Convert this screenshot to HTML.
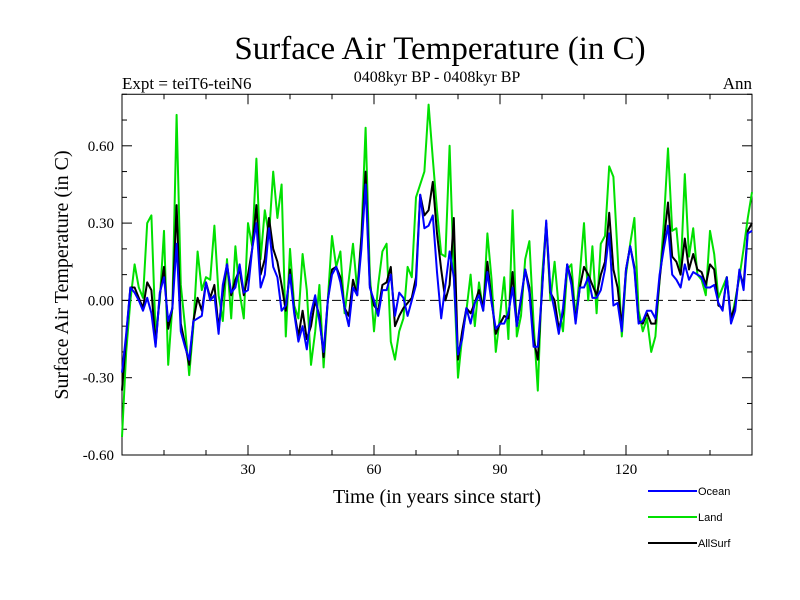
<!DOCTYPE html>
<html><head><meta charset="utf-8"><style>
body{margin:0;background:#fff}
svg{display:block}
.serif{font-family:"Liberation Serif",serif}
.sans{font-family:"Liberation Sans",sans-serif}
</style></head><body>
<svg id="chart" width="800" height="600" xmlns="http://www.w3.org/2000/svg">
<text class="serif" x="440" y="59" font-size="33" text-anchor="middle">Surface Air Temperature (in C)</text>
<text class="serif" x="437" y="82" font-size="16" text-anchor="middle">0408kyr BP - 0408kyr BP</text>
<text class="serif" x="122" y="89" font-size="17">Expt = teiT6-teiN6</text>
<text class="serif" x="752" y="89" font-size="17" text-anchor="end">Ann</text>
<text class="serif" transform="translate(68,275) rotate(-90)" font-size="20" text-anchor="middle">Surface Air Temperature (in C)</text>
<text class="serif" x="437" y="503" font-size="20" text-anchor="middle">Time (in years since start)</text>
<g id="axes" class="serif"></g>
<g id="series"></g>
<g id="legend" class="sans"></g>
</svg>
<script>
const years=[];for(let i=0;i<=150;i++)years.push(i);
const ocean=[-0.28,-0.13,0.05,0.03,0.0,-0.04,0.01,-0.05,-0.18,0.03,0.09,-0.08,-0.03,0.22,-0.12,-0.18,-0.23,-0.08,-0.07,-0.06,0.07,0.0,0.02,-0.13,0.06,0.14,0.03,0.05,0.14,0.03,0.04,0.2,0.3,0.05,0.1,0.28,0.13,0.09,-0.04,-0.02,0.1,-0.05,-0.16,-0.10,-0.19,-0.05,0.02,-0.08,-0.2,0.0,0.1,0.13,0.07,-0.03,-0.1,0.05,0.02,0.2,0.45,0.05,0.0,-0.06,0.04,0.04,0.10,-0.06,0.03,0.01,-0.06,0.0,0.06,0.41,0.28,0.29,0.33,0.11,-0.07,0.06,0.19,0.09,-0.21,-0.15,-0.03,-0.09,-0.01,0.02,-0.04,0.11,-0.01,-0.11,-0.09,-0.09,-0.05,0.05,-0.1,0.01,0.12,0.03,-0.18,-0.18,0.03,0.31,0.04,-0.04,-0.13,-0.03,0.14,0.06,-0.09,0.05,0.05,0.09,0.01,0.01,0.04,0.12,0.26,-0.02,-0.01,-0.12,0.12,0.21,0.12,-0.09,-0.08,-0.04,-0.04,-0.07,0.10,0.20,0.29,0.10,0.08,0.05,0.14,0.08,0.11,0.10,0.09,0.05,0.05,0.06,-0.01,-0.04,0.09,-0.09,-0.04,0.12,0.04,0.26,0.27];
const land=[-0.53,-0.2,0.0,0.14,0.05,0.01,0.30,0.33,-0.13,0.0,0.27,-0.25,-0.02,0.72,0.06,-0.1,-0.29,-0.1,0.19,0.04,0.09,0.08,0.29,0.02,-0.08,0.16,-0.07,0.21,0.03,-0.07,0.30,0.21,0.55,0.16,0.35,0.25,0.5,0.32,0.45,-0.14,0.2,-0.02,-0.07,0.18,0.04,-0.25,-0.12,0.06,-0.26,0.0,0.25,0.13,0.19,-0.05,0.08,0.22,0.04,0.25,0.67,0.1,-0.12,0.06,0.19,0.22,-0.16,-0.23,-0.12,-0.07,0.13,0.09,0.4,0.45,0.5,0.76,0.55,0.35,0.18,0.17,0.6,0.1,-0.3,-0.14,-0.04,0.1,-0.1,0.07,-0.04,0.26,0.08,-0.2,-0.06,0.09,-0.15,0.35,-0.14,-0.06,0.16,0.23,-0.09,-0.35,0.09,0.3,0.0,0.15,-0.03,-0.12,0.12,0.14,-0.07,0.1,0.3,0.0,0.21,-0.05,0.22,0.25,0.52,0.48,0.18,-0.14,0.1,0.22,0.32,-0.04,-0.12,-0.07,-0.2,-0.14,0.08,0.3,0.59,0.27,0.28,0.1,0.49,0.17,0.28,0.1,0.08,0.02,0.27,0.18,0.01,0.05,0.09,-0.08,0.0,0.09,0.2,0.32,0.42];
const allsurf=[-0.35,-0.14,0.05,0.05,0.01,-0.03,0.07,0.04,-0.17,0.02,0.13,-0.11,-0.03,0.37,-0.09,-0.17,-0.25,-0.08,0.01,-0.04,0.07,0.01,0.06,-0.11,0.03,0.14,0.02,0.08,0.12,0.02,0.1,0.2,0.37,0.1,0.16,0.32,0.2,0.15,0.06,-0.04,0.12,-0.04,-0.14,-0.04,-0.15,-0.1,0.0,-0.06,-0.22,0.0,0.12,0.13,0.09,-0.03,-0.06,0.08,0.02,0.24,0.5,0.06,-0.02,-0.04,0.06,0.07,0.13,-0.1,-0.06,-0.03,-0.01,0.01,0.09,0.41,0.33,0.35,0.46,0.26,0.12,0.0,0.06,0.32,-0.23,-0.12,-0.03,-0.05,-0.01,0.04,-0.03,0.15,0.0,-0.13,-0.09,-0.06,-0.07,0.11,-0.1,0.0,0.12,0.05,-0.15,-0.23,0.04,0.3,0.03,0.0,-0.11,-0.05,0.14,0.08,-0.08,0.05,0.13,0.1,0.06,0.02,0.1,0.15,0.34,0.12,0.05,-0.1,0.12,0.21,0.13,-0.08,-0.09,-0.05,-0.09,-0.09,0.08,0.23,0.38,0.17,0.15,0.1,0.24,0.12,0.18,0.12,0.11,0.06,0.14,0.12,-0.02,-0.03,0.09,-0.07,-0.02,0.11,0.06,0.27,0.3];
const yTicks=[-0.6,-0.3,0.0,0.3,0.6];
const yTickLabels=["-0.60","-0.30","0.00","0.30","0.60"];
const xTicks=[30,60,90,120];
const xTickLabels=["30","60","90","120"];

const NS="http://www.w3.org/2000/svg";
const L=122,R=752,X0=0,X1=150,Y0=-0.6,Y1=0.8;
const B=455,T=B-(Y1-Y0)/0.3*77.3;
function xs(v){return L+(v-X0)/(X1-X0)*(R-L);}
function ys(v){return B-(v-Y0)/(Y1-Y0)*(B-T);}
function mk(tag,attrs,parent){const e=document.createElementNS(NS,tag);for(const k in attrs)e.setAttribute(k,attrs[k]);parent.appendChild(e);return e;}
const axes=document.getElementById('axes');
const frame=mk('rect',{x:L,y:T,width:R-L,height:B-T,fill:'none',stroke:'#000','stroke-width':1},axes);


for(let v=-0.6;v<=0.8001;v+=0.1){const y=ys(v);
 const major=yTicks.some(t=>Math.abs(t-v)<1e-6);const len=major?10:5;
 mk('line',{x1:L,x2:L+len,y1:y,y2:y,stroke:'#000'},axes);
 mk('line',{x1:R,x2:R-len,y1:y,y2:y,stroke:'#000'},axes);}
for(let v=10;v<150;v+=10){const x=xs(v);const major=xTicks.includes(v);const len=major?10:5;
 mk('line',{x1:x,x2:x,y1:B,y2:B-len,stroke:'#000'},axes);
 mk('line',{x1:x,x2:x,y1:T,y2:T+len,stroke:'#000'},axes);}
yTicks.forEach((v,i)=>{const t=mk('text',{x:L-8,y:ys(v)+5,'font-size':15,'text-anchor':'end'},axes);t.textContent=yTickLabels[i];
 
 });
xTicks.forEach((v,i)=>{const t=mk('text',{x:xs(v),y:B+19,'font-size':15,'text-anchor':'middle'},axes);t.textContent=xTickLabels[i];
 
 });
const zl=mk('line',{x1:L,x2:R,y1:ys(0),y2:ys(0),stroke:'#000','stroke-dasharray':'9,5'},axes);


const series=document.getElementById('series');
function draw(vals,color,name){const p=mk('polyline',{points:vals.map((v,i)=>xs(years[i])+','+ys(v)).join(' '),fill:'none',stroke:color,'stroke-width':2,'stroke-linejoin':'round'},series);
 
 }
draw(land,'#00e000','land-line');
draw(allsurf,'#000','allsurf-line');
draw(ocean,'#0000ff','ocean-line');
const lg=document.getElementById('legend');
[['Ocean','#0000ff',491],['Land','#00e000',517],['AllSurf','#000',543]].forEach(d=>{
 const g=mk('g',{},lg);
 
 
 mk('line',{x1:648,x2:697,y1:d[2],y2:d[2],stroke:d[1],'stroke-width':2},g);
 const t=mk('text',{x:698,y:d[2]+4,'font-size':11},g);t.textContent=d[0];});
</script>
</body></html>
